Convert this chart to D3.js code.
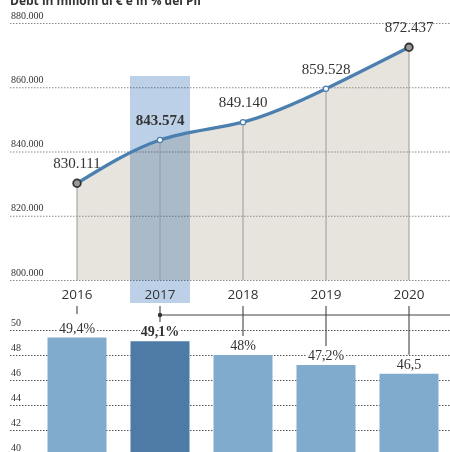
<!DOCTYPE html>
<html>
<head>
<meta charset="utf-8">
<script src="https://cdn.jsdelivr.net/npm/d3@7"></script>
<style>
  body { margin: 0; background: #fff; }
  svg { display: block; }
  .grid line { stroke-dasharray: 1.5 1.5; }
  .serif { font-family: "Liberation Serif", "DejaVu Serif", serif; }
  .sans { font-family: "Open Sans", "Lato", sans-serif; }
</style>
</head>
<body>
<svg id="chart"></svg>
<script>
(function () {
  'use strict';

  // data
  var years = ['2016', '2017', '2018', '2019', '2020'];
  var debt = [830111, 843574, 849140, 859528, 872437];
  var gdpPct = [49.4, 49.1, 48, 47.2, 46.5];
  var pctLabels = ['49,4%', '49,1%', '48%', '47,2%', '46,5'];
  var debtTicks = [800000, 820000, 840000, 860000, 880000];
  var pctTicks = [40, 42, 44, 46, 48, 50];
  var highlight = '2017';
  var title = 'Debt in milioni di € e in % del Pil';

  var width = 450, height = 452;
  var it = d3.formatLocale({ decimal: ',', thousands: '.', grouping: [3], currency: ['€', ''] });
  var fmt = it.format(',');

  var svg = d3.select('#chart').attr('width', width).attr('height', height);

  var data = years.map(function (y, i) {
    return { year: y, debt: debt[i], pct: gdpPct[i], label: pctLabels[i] };
  });

  var x = d3.scalePoint().domain(years).range([77, 409]);
  var y = d3.scaleLinear().domain([800000, 880000]).range([280, 23]);
  var y2 = d3.scaleLinear().domain([40, 50]).range([455, 330]);

  // title (cut off at the top, like the scan)
  svg.append('text')
    .attr('class', 'sans')
    .attr('x', 10).attr('y', 5)
    .style('font-size', '12px').style('font-weight', 'bold').style('fill', '#333')
    .text(title);

  // ---- top chart ----
  var area = d3.area()
    .x(function (d) { return x(d.year); })
    .y0(y(800000))
    .y1(function (d) { return y(d.debt); })
    .curve(d3.curveNatural);

  var line = d3.line()
    .x(function (d) { return x(d.year); })
    .y(function (d) { return y(d.debt); })
    .curve(d3.curveNatural);

  svg.append('path')
    .datum(data)
    .attr('d', area)
    .style('fill', '#e7e3dd');

  var gTop = svg.append('g')
    .attr('class', 'grid')
    .attr('transform', 'translate(10,0)')
    .call(d3.axisRight(y).tickValues(debtTicks).tickSize(440).tickFormat(fmt));
  gTop.select('.domain').remove();
  gTop.selectAll('.tick line').style('stroke', '#8a8a8a');
  gTop.selectAll('.tick text')
    .attr('class', 'serif')
    .attr('x', 1).attr('dy', -5)
    .style('text-anchor', 'start')
    .style('font-size', '10px')
    .style('fill', '#333');

  // highlighted year band
  svg.append('rect')
    .attr('x', x(highlight) - 30)
    .attr('y', 76)
    .attr('width', 60)
    .attr('height', 227)
    .style('fill', '#bcd1e8')
    .style('mix-blend-mode', 'multiply');

  svg.selectAll('line.drop')
    .data(data)
    .enter()
    .append('line')
    .attr('class', 'drop')
    .attr('x1', function (d) { return x(d.year); })
    .attr('x2', function (d) { return x(d.year); })
    .attr('y1', function (d) { return y(d.debt); })
    .attr('y2', y(800000))
    .style('stroke', '#9a9a9a')
    .style('stroke-width', 1);

  svg.append('path')
    .datum(data)
    .attr('d', line)
    .style('fill', 'none')
    .style('stroke', '#4a7fb0')
    .style('stroke-width', 3.2);

  svg.selectAll('circle.pt')
    .data(data)
    .enter()
    .append('circle')
    .attr('class', 'pt')
    .attr('cx', function (d) { return x(d.year); })
    .attr('cy', function (d) { return y(d.debt); })
    .attr('r', function (d, i) { return (i === 0 || i === data.length - 1) ? 3.8 : 2.6; })
    .style('fill', function (d, i) { return (i === 0 || i === data.length - 1) ? '#9a9a9a' : '#fff'; })
    .style('stroke', function (d, i) { return (i === 0 || i === data.length - 1) ? '#333' : '#4a7fb0'; })
    .style('stroke-width', function (d, i) { return (i === 0 || i === data.length - 1) ? 1.8 : 1.2; });

  svg.selectAll('text.val')
    .data(data)
    .enter()
    .append('text')
    .attr('class', 'val serif')
    .attr('x', function (d) { return x(d.year); })
    .attr('y', function (d) { return y(d.debt) - 15; })
    .style('text-anchor', 'middle')
    .style('font-size', '15px')
    .style('font-weight', function (d) { return d.year === highlight ? 'bold' : 'normal'; })
    .style('fill', '#333')
    .text(function (d) { return fmt(d.debt); });

  svg.selectAll('text.year')
    .data(years)
    .enter()
    .append('text')
    .attr('class', 'year sans')
    .attr('x', function (d) { return x(d); })
    .attr('y', 299)
    .style('text-anchor', 'middle')
    .style('font-size', '13.5px')
    .style('fill', '#333')
    .text(function (d) { return d; });

  // ---- bottom chart ----
  var gBot = svg.append('g')
    .attr('class', 'grid')
    .attr('transform', 'translate(10,0)')
    .call(d3.axisRight(y2).tickValues(pctTicks).tickSize(440).tickFormat(d3.format('d')));
  gBot.select('.domain').remove();
  gBot.selectAll('.tick line').style('stroke', '#555');
  gBot.selectAll('.tick text')
    .attr('class', 'serif')
    .attr('x', 1).attr('dy', -5)
    .style('text-anchor', 'start')
    .style('font-size', '10px')
    .style('fill', '#333');

  svg.selectAll('rect.bar')
    .data(data)
    .enter()
    .append('rect')
    .attr('class', 'bar')
    .attr('x', function (d) { return x(d.year) - 29.5; })
    .attr('width', 59)
    .attr('y', function (d) { return y2(d.pct); })
    .attr('height', function (d) { return y2(40) - y2(d.pct); })
    .style('fill', function (d) { return d.year === highlight ? '#4d7ba6' : '#80abcc'; });

  // connectors from the years to the bar labels
  var hi = years.indexOf(highlight);
  svg.append('line')
    .attr('x1', x(highlight)).attr('x2', width)
    .attr('y1', 315).attr('y2', 315)
    .style('stroke', '#444').style('stroke-width', 1.2);

  svg.selectAll('line.conn')
    .data(data)
    .enter()
    .append('line')
    .attr('class', 'conn')
    .attr('x1', function (d) { return x(d.year); })
    .attr('x2', function (d) { return x(d.year); })
    .attr('y1', 306)
    .attr('y2', function (d, i) { return i < hi ? 314 : (i === hi ? 322 : y2(d.pct) - 19); })
    .style('stroke', '#444')
    .style('stroke-width', 1.1);

  svg.append('circle')
    .attr('cx', x(highlight)).attr('cy', 315).attr('r', 2.2)
    .style('fill', '#333');

  svg.selectAll('text.pct')
    .data(data)
    .enter()
    .append('text')
    .attr('class', 'pct serif')
    .attr('x', function (d) { return x(d.year); })
    .attr('y', function (d) { return y2(d.pct) - 5; })
    .style('text-anchor', 'middle')
    .style('font-size', '14px')
    .style('font-weight', function (d) { return d.year === highlight ? 'bold' : 'normal'; })
    .style('fill', '#333')
    .style('stroke', '#fff')
    .style('stroke-width', 4)
    .style('paint-order', 'stroke')
    .style('stroke-linejoin', 'round')
    .text(function (d) { return d.label; });
}());
</script>
</body>
</html>
